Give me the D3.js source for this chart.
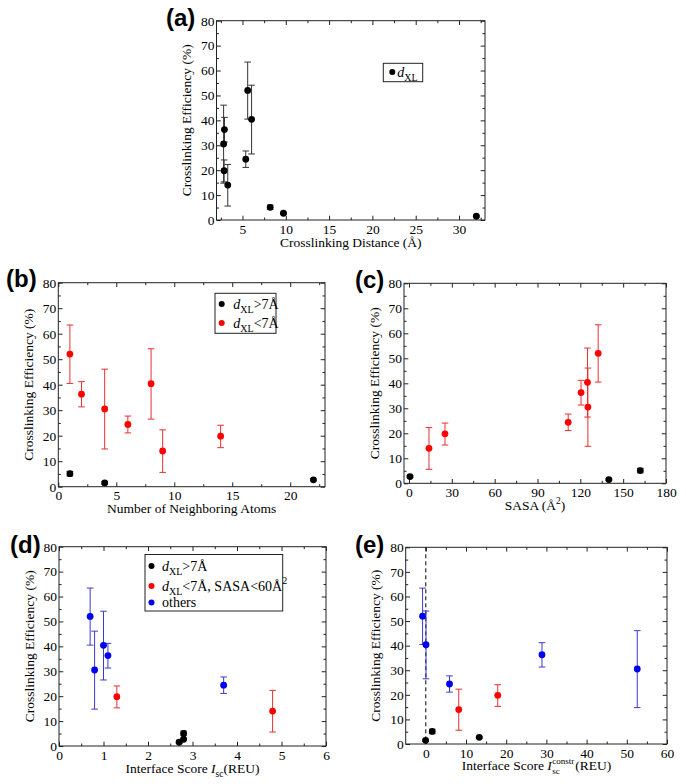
<!DOCTYPE html>
<html><head><meta charset="utf-8">
<script src="https://cdn.jsdelivr.net/npm/d3@7"></script>
<style>
html,body{margin:0;padding:0;background:#fff;}
svg{display:block;}
svg text{font-family:"Liberation Serif","Times New Roman",serif;fill:#000;}
svg text.plabel{font-family:"Liberation Sans",Arial,sans-serif;font-weight:bold;}
</style></head>
<body>
<svg id="chart" width="686" height="784"></svg>
<script>
// ---- data: one entry per crosslinking experiment ----
const efficiency = [52, 40.4, 36.3, 30.5, 24.4, 19.8, 14, 5.1, 2.7, 1.5];
const errLow     = [40.5, 26.5, 31.3, 14.8, 21.1, 15.3, 5.6, 4.2, 2.3, 1.1];
const errHigh    = [63.4, 54.1, 41.2, 46.1, 27.7, 24.1, 22.3, 6.0, 3.1, 1.9];
const distXL     = [5.6, 6.05, 2.92, 2.82, 5.38, 2.88, 3.3, 8.2, 9.73, 32];
const neighbors  = [1, 8, 2, 4, 6, 14, 9, 1, 22, 4];
const sasa       = [132.5, 125, 120.5, 125.3, 111.5, 25.2, 14, 162, 0.7, 140];
const iscScore   = [0.7, 1.0, 1.1, 0.8, 3.7, 1.3, 4.8, 2.8, 2.8, 2.7];
const iscConstr  = [-0.8, 0.05, 28.9, 52.6, 5.9, 17.9, 8.2, 1.6, 13.3, -0.05];

// ---- tick labels ----
const yTicks = [0, 10, 20, 30, 40, 50, 60, 70, 80];
const yMinor = [5, 15, 25, 35, 45, 55, 65, 75];
const xTicksA = [5, 10, 15, 20, 25, 30];
const xMinorA = [2.5, 7.5, 12.5, 17.5, 22.5, 27.5, 32.5];
const xTicksB = [0, 5, 10, 15, 20];
const xMinorB = [2.5, 7.5, 12.5, 17.5, 22.5];
const xTicksC = [0, 30, 60, 90, 120, 150, 180];
const xMinorC = [15, 45, 75, 105, 135, 165];
const xTicksD = [0, 1, 2, 3, 4, 5, 6];
const xMinorD = [0.5, 1.5, 2.5, 3.5, 4.5, 5.5];
const xTicksE = [0, 10, 20, 30, 40, 50, 60];
const xMinorE = [-5, 5, 15, 25, 35, 45, 55];

const data = efficiency.map((e, i) => ({
  eff: e, lo: errLow[i], hi: errHigh[i], d: distXL[i], nb: neighbors[i],
  sasa: sasa[i], isc: iscScore[i], iscc: iscConstr[i]
}));

const COL = {black: "#000", red: "#f00", blue: "#0000f0"};
const ECOL = {black: "#333", red: "#e83030", blue: "#3a3ad0"};
const grpBR = p => p.d > 7 ? "black" : "red";
const grpBRB = p => p.d > 7 ? "black" : (p.sasa < 60 ? "red" : "blue");

const svg = d3.select("#chart");
const fmt = d3.format("d");
const SERIF = '"Liberation Serif", "Times New Roman", serif';

function panel(cfg) {
  const g = svg.append("g");
  const x = d3.scaleLinear().domain(cfg.xDomain).range([cfg.L, cfg.R]);
  const y = d3.scaleLinear().domain([0, 80]).range([cfg.B, cfg.T]);
  const fs = 13.5;
  const clean = s => {
    s.select(".domain").remove();
    s.attr("font-family", SERIF).attr("font-size", fs);
    s.selectAll("line").attr("stroke", "#222");
    s.selectAll("text").attr("fill", "#000").style("font-family", SERIF).style("font-size", fs + "px");
  };
  const minorX = cfg.xMinor.filter(v => v > cfg.xDomain[0] && v < cfg.xDomain[1]);

  g.append("g").attr("transform", `translate(0,${cfg.B})`)
    .call(d3.axisBottom(x).tickValues(cfg.xTicks).tickFormat(fmt).tickSizeInner(-4.3).tickSizeOuter(0).tickPadding(4))
    .call(clean);
  g.append("g").attr("transform", `translate(0,${cfg.B})`)
    .call(d3.axisBottom(x).tickValues(minorX).tickSizeInner(-2.5).tickSizeOuter(0).tickFormat(""))
    .call(clean);
  g.append("g").attr("transform", `translate(0,${cfg.T})`)
    .call(d3.axisTop(x).tickValues(cfg.xTicks).tickSizeInner(-4.3).tickSizeOuter(0).tickFormat(""))
    .call(clean);
  g.append("g").attr("transform", `translate(0,${cfg.T})`)
    .call(d3.axisTop(x).tickValues(minorX).tickSizeInner(-2.5).tickSizeOuter(0).tickFormat(""))
    .call(clean);

  g.append("g").attr("transform", `translate(${cfg.L},0)`)
    .call(d3.axisLeft(y).tickValues(yTicks).tickFormat(fmt).tickSizeInner(-4.3).tickSizeOuter(0).tickPadding(2))
    .call(clean);
  g.append("g").attr("transform", `translate(${cfg.L},0)`)
    .call(d3.axisLeft(y).tickValues(yMinor).tickSizeInner(-2.5).tickSizeOuter(0).tickFormat(""))
    .call(clean);
  g.append("g").attr("transform", `translate(${cfg.R},0)`)
    .call(d3.axisRight(y).tickValues(yTicks).tickSizeInner(-4.3).tickSizeOuter(0).tickFormat(""))
    .call(clean);
  g.append("g").attr("transform", `translate(${cfg.R},0)`)
    .call(d3.axisRight(y).tickValues(yMinor).tickSizeInner(-2.5).tickSizeOuter(0).tickFormat(""))
    .call(clean);

  // frame
  g.append("rect").attr("x", cfg.L).attr("y", cfg.T)
    .attr("width", cfg.R - cfg.L).attr("height", cfg.B - cfg.T)
    .attr("fill", "none").attr("stroke", "#222").attr("stroke-width", 1);

  if (cfg.zeroLine) {
    g.append("line").attr("x1", x(0)).attr("x2", x(0)).attr("y1", cfg.T).attr("y2", cfg.B)
      .attr("stroke", "#000").attr("stroke-width", 1).attr("stroke-dasharray", "4,3");
  }

  // error bars
  const cap = 3.3;
  const eb = g.append("g").selectAll("g").data(data).join("g")
    .attr("stroke", p => ECOL[cfg.group(p)]).attr("stroke-width", 1).attr("fill", "none");
  eb.append("line").attr("x1", p => x(cfg.xv(p))).attr("x2", p => x(cfg.xv(p)))
    .attr("y1", p => y(p.lo)).attr("y2", p => y(p.hi));
  eb.append("line").attr("x1", p => x(cfg.xv(p)) - cap).attr("x2", p => x(cfg.xv(p)) + cap)
    .attr("y1", p => y(p.lo)).attr("y2", p => y(p.lo));
  eb.append("line").attr("x1", p => x(cfg.xv(p)) - cap).attr("x2", p => x(cfg.xv(p)) + cap)
    .attr("y1", p => y(p.hi)).attr("y2", p => y(p.hi));

  // points
  g.append("g").selectAll("circle").data(data).join("circle")
    .attr("cx", p => x(cfg.xv(p))).attr("cy", p => y(p.eff)).attr("r", 3.4)
    .attr("fill", p => COL[cfg.group(p)]);

  // y title
  g.append("text").attr("transform", `translate(${cfg.L - 25.5},${(cfg.T + cfg.B) / 2}) rotate(-90)`)
    .attr("text-anchor", "middle").attr("font-size", 13.5).text("Crosslinking Efficiency (%)");

  // x title
  const xt = g.append("text").attr("x", (cfg.L + cfg.R) / 2).attr("y", cfg.B + 26.5)
    .attr("text-anchor", "middle").attr("font-size", 13.5);
  cfg.xTitle(xt, g, cfg);

  // panel label
  g.append("text").attr("class", "plabel").attr("x", cfg.lx).attr("y", cfg.ly)
    .attr("font-size", 24).text(cfg.label);

  // legend
  if (cfg.legend) {
    const lg = cfg.legend;
    g.append("rect").attr("x", lg.x).attr("y", lg.y).attr("width", lg.w).attr("height", lg.h)
      .attr("fill", "#fff").attr("stroke", "#222").attr("stroke-width", 1);
    lg.items.forEach(it => {
      g.append("circle").attr("cx", lg.x + lg.mx).attr("cy", it.y).attr("r", 3).attr("fill", COL[it.c]);
      const t = g.append("text").attr("x", lg.x + lg.tx).attr("y", it.y + 4.5).attr("font-size", 14);
      it.text(t);
    });
  }
  return {x, y};
}

function dxlText(t, rest) {
  t.append("tspan").attr("font-style", "italic").text("d");
  t.append("tspan").attr("font-size", 10).attr("dy", 4).text("XL");
  if (rest) t.append("tspan").attr("dy", -4).text(rest);
}

// (a)
panel({
  L: 216.5, R: 485, T: 20.7, B: 220, xDomain: [2, 33], xTicks: xTicksA, xMinor: xMinorA,
  xv: p => p.d, group: () => "black", label: "(a)", lx: 166, ly: 26,
  xTitle: t => t.text("Crosslinking Distance (Å)"),
  legend: {x: 383.3, y: 63.3, w: 39.4, h: 18.4, mx: 9, tx: 14,
    items: [{y: 72, c: "black", text: t => dxlText(t, "")}]}
});

// (b)
panel({
  L: 58.3, R: 325, T: 282.7, B: 486.7, xDomain: [0, 23], xTicks: xTicksB, xMinor: xMinorB,
  xv: p => p.nb, group: grpBR, label: "(b)", lx: 6, ly: 287,
  xTitle: t => t.text("Number of Neighboring Atoms"),
  legend: {x: 215, y: 293.3, w: 61, h: 40, mx: 6.7, tx: 18.3,
    items: [{y: 304, c: "black", text: t => dxlText(t, ">7Å")},
            {y: 323, c: "red", text: t => dxlText(t, "<7Å")}]}
});

// (c)
panel({
  L: 404, R: 666, T: 283.3, B: 483.3, xDomain: [-3.5, 180], xTicks: xTicksC, xMinor: xMinorC,
  xv: p => p.sasa, group: grpBR, label: "(c)", lx: 355, ly: 288,
  xTitle: t => {
    t.append("tspan").text("SASA (Å");
    t.append("tspan").attr("font-size", 9.5).attr("dy", -6).text("2");
    t.append("tspan").attr("dy", 6).text(")");
  }
});

// (d)
panel({
  L: 59, R: 326, T: 546.7, B: 746, xDomain: [0, 6], xTicks: xTicksD, xMinor: xMinorD,
  xv: p => p.isc, group: grpBRB, label: "(d)", lx: 10, ly: 553,
  xTitle: t => {
    t.append("tspan").text("Interface Score ");
    t.append("tspan").attr("font-style", "italic").text("I");
    t.append("tspan").attr("font-size", 9.5).attr("dy", 4).text("sc");
    t.append("tspan").attr("dy", -4).text("(REU)");
  },
  legend: {x: 145, y: 554.5, w: 137.7, h: 56.5, mx: 6.5, tx: 17,
    items: [{y: 566, c: "black", text: t => dxlText(t, ">7Å")},
            {y: 586, c: "red", text: t => {
              dxlText(t, "<7Å, SASA<60Å");
              t.append("tspan").attr("font-size", 10).attr("dy", -7).text("2");
            }},
            {y: 602.5, c: "blue", text: t => t.text("others")}]}
});

// (e)
panel({
  L: 405.7, R: 667, T: 547.3, B: 744, xDomain: [-5, 60], xTicks: xTicksE, xMinor: xMinorE,
  xv: p => p.iscc, group: grpBRB, label: "(e)", lx: 355, ly: 553, zeroLine: true,
  xTitle: (t, g, cfg) => {
    t.attr("text-anchor", "start");
    t.append("tspan").text("Interface Score ");
    t.append("tspan").attr("font-style", "italic").text("I");
    const w0 = t.node().getComputedTextLength();
    const sub = g.append("text").attr("font-size", 9).text("sc");
    const sup = g.append("text").attr("font-size", 9).text("constr");
    const ws = Math.max(sub.node().getComputedTextLength(), sup.node().getComputedTextLength());
    const rest = g.append("text").attr("font-size", 13.5).text("(REU)");
    const wr = rest.node().getComputedTextLength();
    const total = w0 + ws + 1 + wr;
    const x0 = (cfg.L + cfg.R) / 2 - total / 2;
    const yb = cfg.B + 26;
    t.attr("x", x0).attr("y", yb);
    sub.attr("x", x0 + w0 + 0.5).attr("y", yb + 4);
    sup.attr("x", x0 + w0 + 0.5).attr("y", yb - 6);
    rest.attr("x", x0 + w0 + ws + 1.5).attr("y", yb);
  }
});
</script>
</body></html>
